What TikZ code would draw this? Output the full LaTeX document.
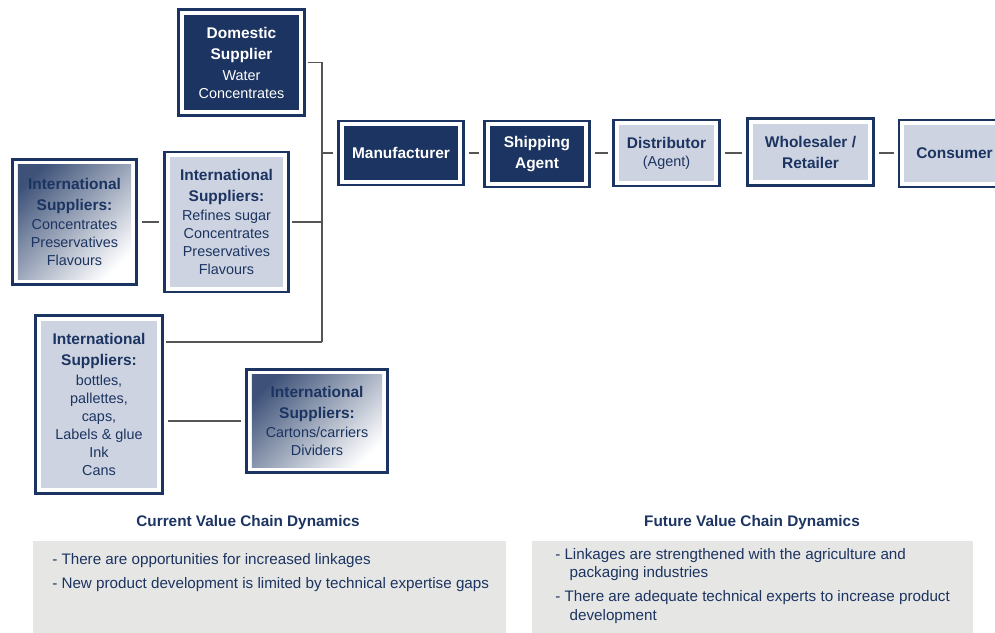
\documentclass[tikz,border=0pt]{standalone}
\usepackage{fontspec}
\setmainfont{Liberation Sans}
\usetikzlibrary{positioning}

\definecolor{chainnavy}{RGB}{28,52,97}
\definecolor{chainpale}{RGB}{205,211,224}
\definecolor{chainmist}{RGB}{196,198,216}
\definecolor{notegray}{RGB}{230,230,229}
\definecolor{linkgray}{RGB}{85,85,85}

\tikzset{
  chainbox/.style={draw=chainnavy, line width=1.7pt, fill=white, align=center, inner sep=0pt,
    font=\fontsize{10.8}{13.5}\selectfont},
  darkbox/.style={chainbox, text=white, path picture={
    \fill[chainnavy] ([shift={(4pt,-4pt)}]path picture bounding box.north west)
      rectangle ([shift={(-4pt,4pt)}]path picture bounding box.south east);}},
  palebox/.style={chainbox, text=chainnavy, path picture={
    \fill[chainpale] ([shift={(4pt,-4pt)}]path picture bounding box.north west)
      rectangle ([shift={(-4pt,4pt)}]path picture bounding box.south east);}},
  shadebox/.style={chainbox, text=chainnavy, path picture={
    \shade[top color=chainnavy!85, middle color=chainmist, bottom color=white, shading angle=45]
      ([shift={(4pt,-4pt)}]path picture bounding box.north west)
      rectangle ([shift={(-4pt,4pt)}]path picture bounding box.south east);}},
  link/.style={draw=linkgray, line width=1pt, shorten >=3pt, shorten <=3pt},
  notebox/.style={fill=notegray, inner sep=0pt, anchor=north west},
  notetext/.style={text=chainnavy, align=left, inner sep=0pt, anchor=north west,
    font=\fontsize{11.4}{14}\selectfont},
  notehead/.style={text=chainnavy, font=\fontsize{11.5}{14}\selectfont\bfseries},
}
\newcommand{\hd}[1]{{\fontsize{11.6}{13.5}\selectfont\bfseries #1}}

\begin{document}
\begin{tikzpicture}[x=0.75pt, y=-0.75pt]
  \useasboundingbox (0,0) rectangle (995,632);
  \clip (0,0) rectangle (995,632);

  % supplier boxes
  \node[darkbox, minimum width=94.5pt, minimum height=79.5pt] (dom) at (241.5,62.5)
    {\hd{Domestic}\\[2.25pt]\hd{Supplier}\\[2.25pt]Water\\Concentrates};
  \node[shadebox, minimum width=93pt, minimum height=93.75pt] (intl) at (74.5,222)
    {\hd{International}\\[2.25pt]\hd{Suppliers:}\\[1pt]Concentrates\\Preservatives\\Flavours};
  \node[palebox, minimum width=93pt, minimum height=105pt] (ref) at (226.5,222)
    {\hd{International}\\[2.25pt]\hd{Suppliers:}\\[1pt]Refines sugar\\Concentrates\\Preservatives\\Flavours};
  \node[palebox, minimum width=95.25pt, minimum height=133.5pt] (bot) at (99,404.5)
    {\hd{International}\\[2.25pt]\hd{Suppliers:}\\[1pt]bottles,\\pallettes,\\caps,\\Labels \& glue\\Ink\\Cans};
  \node[shadebox, minimum width=105.75pt, minimum height=77.25pt] (car) at (317,421)
    {\hd{International}\\[2.25pt]\hd{Suppliers:}\\[1pt]Cartons/carriers\\Dividers};

  % value chain
  \node[darkbox, minimum width=93.75pt, minimum height=48pt] (man) at (401,153) {\hd{Manufacturer}};
  \node[darkbox, minimum width=78.75pt, minimum height=49.5pt] (ship) at (537,154)
    {\hd{Shipping}\\[2.25pt]\hd{Agent}};
  \node[palebox, minimum width=79.5pt, minimum height=49.5pt] (dist) at (666.5,153)
    {\hd{Distributor}\\(Agent)};
  \node[palebox, minimum width=94.5pt, minimum height=50.25pt] (whole) at (810.5,152)
    {\hd{Wholesaler /}\\[2.25pt]\hd{Retailer}};
  \node[palebox, minimum width=83.25pt, minimum height=50.25pt] (cons) at (954.5,153.5) {\hd{Consumer}};

  % connectors
  \coordinate (busturn) at (322,342);
  \draw[link, shorten <=1.5pt, shorten >=0pt] (dom.east) -| (busturn);
  \draw[link, shorten <=1.5pt, shorten >=0pt] (ref.east) -- (ref.east -| busturn);
  \draw[link, shorten <=1.5pt, shorten >=0pt] (busturn -| bot.east) -- (busturn);
  \draw[link, shorten <=0pt] (busturn |- man.west) -- (man.west);
  \draw[link] (intl.east) -- (ref.west);
  \draw[link] (car.west -| bot.east) -- (car.west);
  \foreach \a/\b in {man/ship, ship/dist, dist/whole, whole/cons} {
    \draw[link] (\a.east |- man.west) -- (\b.west |- man.west);
  }

  % dynamics notes
  \node[notehead] (curhead) at (248,523) {Current Value Chain Dynamics};
  \node[notehead] (futhead) at (752,523) {Future Value Chain Dynamics};
  \node[notebox, minimum width=354.75pt, minimum height=75pt] (curbox) at (33,541) {};
  \node[notebox, minimum width=330.75pt, minimum height=75pt] (futbox) at (532,541) {};
  \node[notetext] (curtext) at ([shift={(19,12)}]curbox.north west)
    {- There are opportunities for increased linkages\\[4pt]
     - New product development is limited by technical expertise gaps};
  \node[notetext] (futtext) at ([shift={(23,7)}]futbox.north west)
    {- Linkages are strengthened with the agriculture and\\
     \hspace*{0.95em}packaging industries\\[4pt]
     - There are adequate technical experts to increase product\\
     \hspace*{0.95em}development};
\end{tikzpicture}
\end{document}
